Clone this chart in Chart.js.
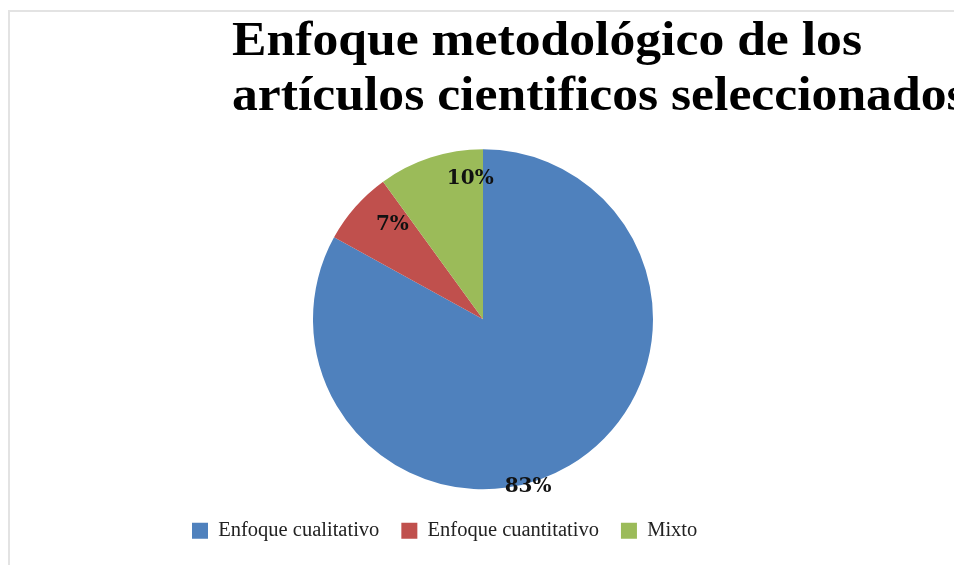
<!doctype html>
<html lang="es">
  <head>
    <meta charset="UTF-8" />
    <title>Enfoque metodológico</title>
    <style>
      html, body { margin: 0; padding: 0; background: #fff; overflow: hidden; }
      .frame {
        position: absolute;
        left: 8px;
        top: 10px;
        width: 960px;
        height: 570px;
        border-left: 2px solid #e3e3e3;
        border-top: 2px solid #e3e3e3;
      }
      .wrap { position: absolute; left: 0; top: 0; width: 954px; height: 552px; }
    </style>
  </head>
  <body>
    <div class="frame"></div>
    <div class="wrap"><canvas id="pie"></canvas></div>

    <script src="https://cdn.jsdelivr.net/npm/chart.js"></script>
    <script>
      const titleLines = ['Enfoque metodológico de los', 'artículos cientificos seleccionados'];
      const categories = ['Enfoque cualitativo', 'Enfoque cuantitativo', 'Mixto'];
      const values = [83, 7, 10];
      const colors = ['#4F81BD', '#C0504D', '#9BBB59'];

      // where each % label sits: [fraction along the slice, fraction of the radius]
      const labelSpots = [[0.552, 1.02], [0.69, 0.77], [0.856, 0.83]];

      const titlePlugin = {
        id: 'leftTitle',
        beforeDraw(chart) {
          const ctx = chart.ctx;
          ctx.save();
          ctx.fillStyle = '#000';
          ctx.font = 'bold 48px "Liberation Serif", serif';
          ctx.textBaseline = 'alphabetic';
          // the original font is wider (Cambria), stretch to the same line width
          const sx = 630 / ctx.measureText(titleLines[0]).width;
          ctx.translate(232, 0);
          ctx.scale(sx, 1);
          ctx.fillText(titleLines[0], 0, 55);
          ctx.fillText(titleLines[1], 0, 110);
          ctx.restore();
        }
      };

      const pctLabels = {
        id: 'pctLabels',
        afterDatasetsDraw(chart) {
          const ctx = chart.ctx;
          const meta = chart.getDatasetMeta(0);
          ctx.save();
          ctx.fillStyle = '#111';
          ctx.font = 'bold 20px "DejaVu Serif", serif';
          ctx.textAlign = 'center';
          ctx.textBaseline = 'middle';
          meta.data.forEach((arc, i) => {
            const p = arc.getProps(['x', 'y', 'startAngle', 'endAngle', 'outerRadius'], true);
            const a = p.startAngle + (p.endAngle - p.startAngle) * labelSpots[i][0];
            const r = p.outerRadius * labelSpots[i][1];
            ctx.fillText(values[i] + '%', p.x + Math.cos(a) * r, p.y + Math.sin(a) * r);
          });
          ctx.restore();
        }
      };

      new Chart(document.getElementById('pie'), {
        type: 'pie',
        data: {
          labels: categories,
          datasets: [{
            data: values,
            backgroundColor: colors,
            borderWidth: 0
          }]
        },
        options: {
          responsive: true,
          maintainAspectRatio: false,
          animation: false,
          radius: 170,
          layout: { padding: { left: 170, right: 158, top: 140, bottom: 1 } },
          plugins: {
            title: { display: false },
            tooltip: { enabled: false },
            legend: {
              position: 'bottom',
              align: 'start',
              labels: {
                color: '#222',
                boxWidth: 16,
                boxHeight: 16,
                padding: 22,
                font: { family: '"Liberation Serif", serif', size: 20.5 }
              }
            }
          }
        },
        plugins: [titlePlugin, pctLabels]
      });
    </script>
  </body>
</html>
